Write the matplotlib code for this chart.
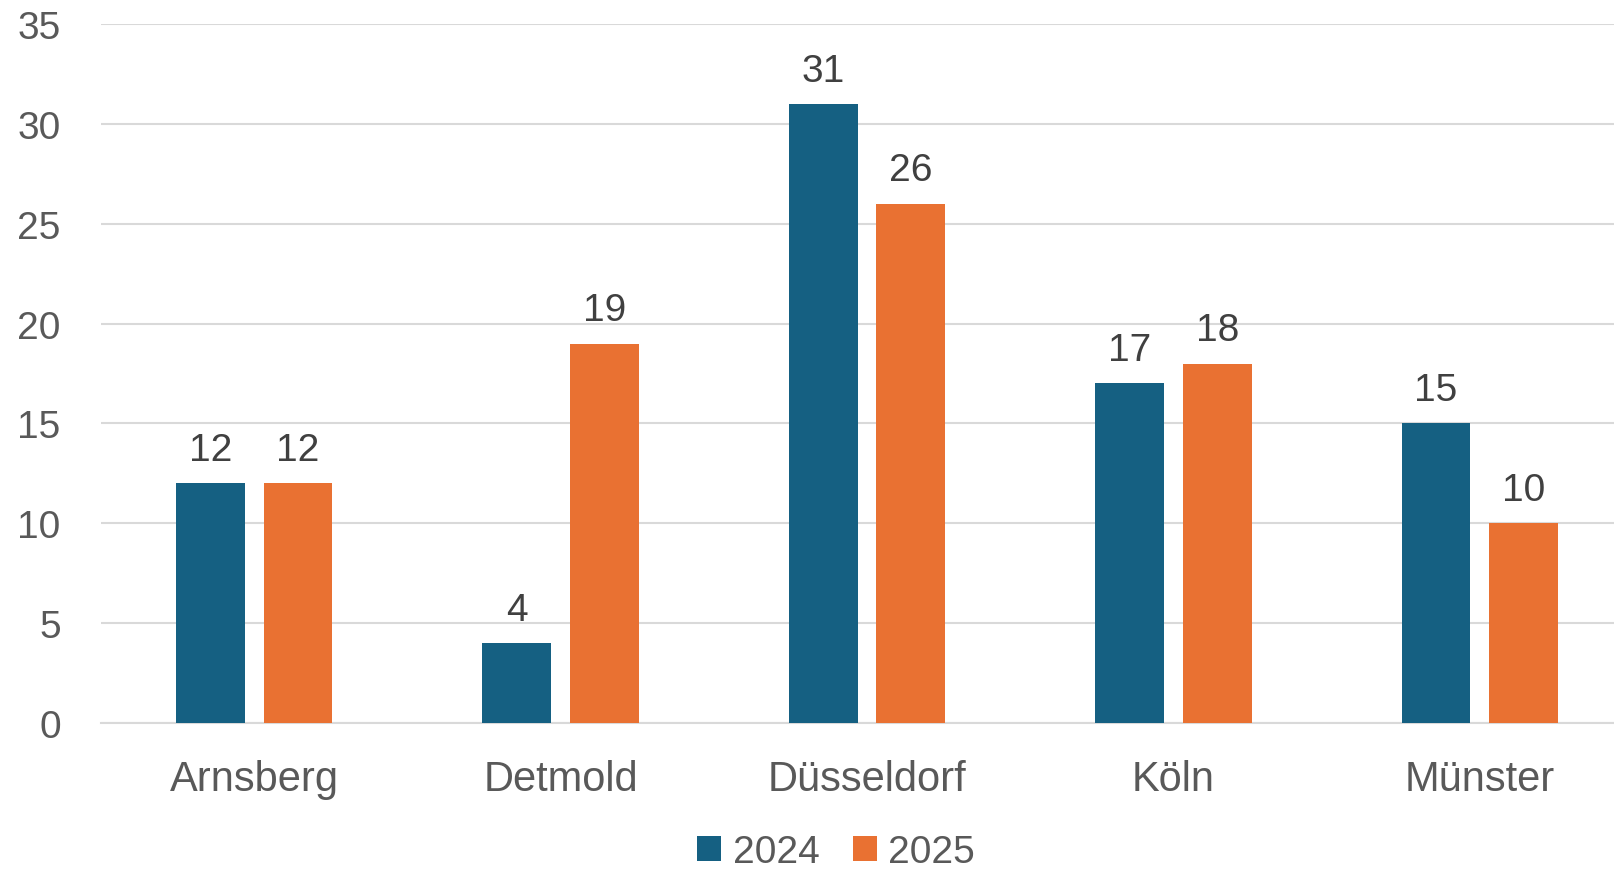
import matplotlib.pyplot as plt
import numpy as np

plt.rcParams["font.family"] = ["Liberation Sans", "DejaVu Sans"]

regions = ["Arnsberg", "Detmold", "Düsseldorf", "Köln", "Münster"]
vals_2024 = [12, 4, 31, 17, 15]
vals_2025 = [12, 19, 26, 18, 10]
series_names = ["2024", "2025"]

blue = "#156082"
orange = "#E97132"
text_col = "#595959"

W, H = 1615, 870
fig = plt.figure(figsize=(W / 100, H / 100), dpi=100)
# plot area runs past the right edge of the image, like the original
ax = fig.add_axes([101 / W, 1 - 724 / H, (1633 - 101) / W, (724 - 25) / H])

x = np.arange(len(regions))
w = 0.225
off = 0.143
b1 = ax.bar(x - off, vals_2024, w, color=blue, label=series_names[0], zorder=3)
b2 = ax.bar(x + off, vals_2025, w, color=orange, label=series_names[1], zorder=3)

for bars in (b1, b2):
    ax.bar_label(bars, padding=11, fontsize=28, color="#404040")

ax.set_xlim(-0.5, 4.5)
ax.set_ylim(0, 35)
ax.set_yticks(range(0, 36, 5))
ax.set_xticks(x)
ax.set_xticklabels(regions)
ax.yaxis.grid(True, color="#d9d9d9", linewidth=1.5, zorder=0)
ax.set_axisbelow(True)

for s in ["top", "right", "left"]:
    ax.spines[s].set_visible(False)
ax.spines["bottom"].set_color("#d9d9d9")
ax.spines["bottom"].set_linewidth(1.5)

ax.tick_params(axis="both", length=0, colors=text_col)
ax.tick_params(axis="x", labelsize=30, pad=26)
ax.tick_params(axis="y", labelsize=28, pad=29)

fig.legend(handles=[b1, b2], loc="center", bbox_to_anchor=(836 / W, 1 - 853 / H),
           ncol=2, frameon=False, fontsize=28, handlelength=0.62, handleheight=0.62,
           handletextpad=0.3, columnspacing=0.85, labelcolor=text_col,
           borderpad=0.1)

fig.savefig("out.png", dpi=100, facecolor="white")
